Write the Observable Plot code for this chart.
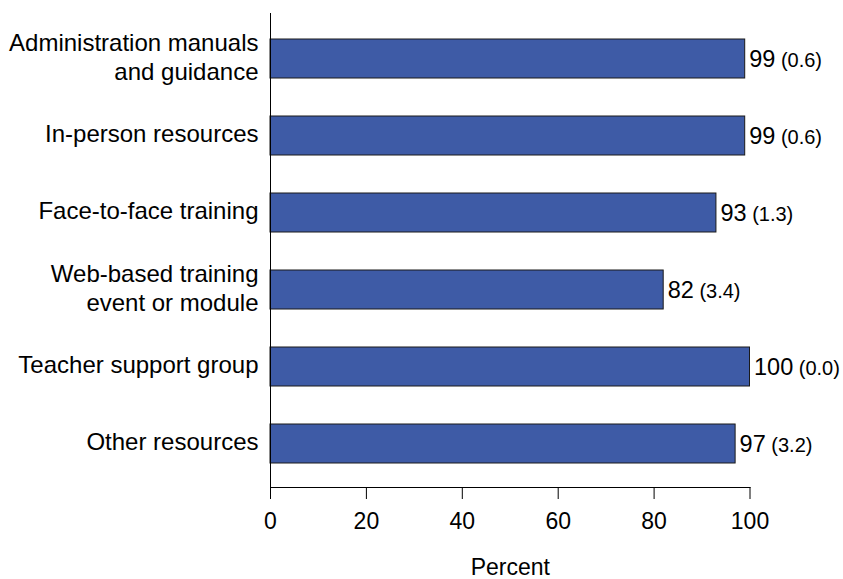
<!DOCTYPE html>
<html>
<head>
<meta charset="utf-8">
<script src="https://cdn.jsdelivr.net/npm/d3@7"></script>
<script src="https://cdn.jsdelivr.net/npm/@observablehq/plot@0.6"></script>
<style>
  html, body { margin: 0; padding: 0; background: #fff; }
</style>
</head>
<body>
<div id="chart"></div>
<script>
const categories = [
  "Administration manuals\nand guidance",
  "In-person resources",
  "Face-to-face training",
  "Web-based training\nevent or module",
  "Teacher support group",
  "Other resources"
];
const values = [99, 99, 93, 82, 100, 97];
const errors = ["0.6", "0.6", "1.3", "3.4", "0.0", "3.2"];
const xTicks = [0, 20, 40, 60, 80, 100];
const xLabel = "Percent";

const data = categories.map((c, i) => ({category: c, value: values[i], se: errors[i]}));

const chart = Plot.plot({
  width: 843,
  height: 579,
  marginLeft: 270,
  marginRight: 93.5,
  marginTop: 13,
  marginBottom: 92,
  style: {fontFamily: "'Liberation Sans', Arial, sans-serif", fontSize: "22px", color: "#000", background: "#fff"},
  x: {domain: [0, 100]},
  y: {domain: categories, paddingInner: 0.5, paddingOuter: 0.25, insetTop: 5.7, insetBottom: 5, axis: null},
  marks: [
    Plot.barX(data, {x: "value", y: "category", fill: "#3E5BA6", stroke: "#1a1a1a", strokeWidth: 1}),
    Plot.ruleX([0], {stroke: "#000", strokeWidth: 1}),
    Plot.frame({anchor: "bottom", stroke: "#000", strokeWidth: 1}),
    Plot.axisX({ticks: xTicks, tickSize: 12, tickPadding: 13, fontSize: 23, label: null, stroke: "#000"}),
    Plot.text(data, {x: 0, y: "category", text: "category", dx: -12, dy: -3, textAnchor: "end", lineHeight: 1.2, fontSize: 24, fill: "#000"}),
    Plot.text(data, {x: "value", y: "category", text: d => `${d.value}|${d.se}`, dx: 4, textAnchor: "start", fontSize: 23.5, fill: "#000"}),
    Plot.text([xLabel], {frameAnchor: "bottom", dy: 80, lineAnchor: "middle", fontSize: 23, fill: "#000"})
  ]
});

d3.select(chart).selectAll("text").each(function() {
  const el = d3.select(this);
  const t = el.text();
  if (!t.includes("|") || el.selectAll("tspan").size() > 1) return;
  const [v, se] = t.split("|");
  el.text(null);
  el.append("tspan").text(v);
  el.append("tspan").attr("font-size", 20).text(" (" + se + ")");
});

document.getElementById("chart").appendChild(chart);
</script>
</body>
</html>
